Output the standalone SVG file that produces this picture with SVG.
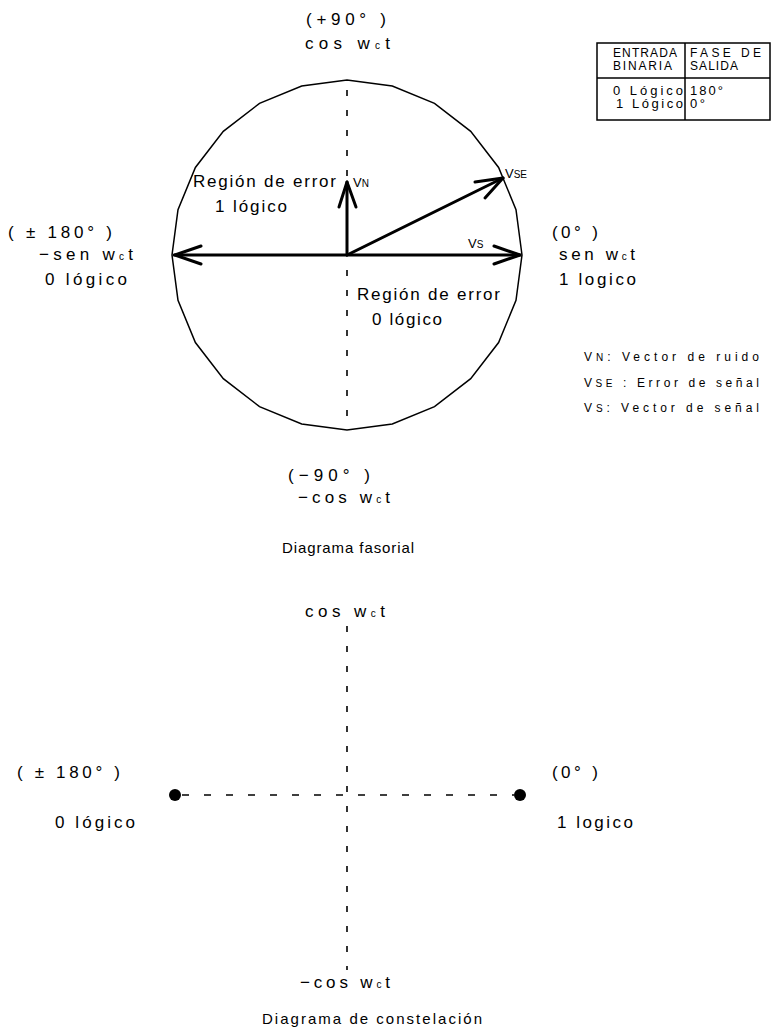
<svg xmlns="http://www.w3.org/2000/svg" width="773" height="1033" viewBox="0 0 773 1033">
<style>
.t{font-family:"Liberation Sans",Arial,sans-serif;font-size:17px;fill:#000}
.c{font-family:"Liberation Sans",Arial,sans-serif;font-size:15px;fill:#000}
.s{font-family:"Liberation Sans",Arial,sans-serif;font-size:12px;fill:#000}
.m{font-family:"Liberation Sans",Arial,sans-serif;font-size:13px;fill:#000}
.sub{font-size:10px}
.vec{stroke:#000;stroke-width:3;fill:none;stroke-linecap:round;stroke-linejoin:round}
.dash{stroke:#000;stroke-width:1.6;fill:none}
.box{stroke:#000;stroke-width:1.5;fill:none}
</style>
<rect width="773" height="1033" fill="#fff"/>

<g id="phasor-circle">
<polygon class="box" stroke-width="2" points="522,255 516,209.7 498.6,167.5 470.7,131.3 434.5,103.4 392.3,86 347,80 301.7,86 259.5,103.4 223.3,131.3 195.4,167.5 178,209.7 172,255 178,300.3 195.4,342.5 223.3,378.7 259.5,406.6 301.7,424 347,430 392.3,424 434.5,406.6 470.7,378.7 498.6,342.5 516,300.3"/>
</g>

<g id="connectors">
<line class="dash" x1="347" y1="90" x2="347" y2="425" stroke-dasharray="6 14"/>
<line class="vec" x1="174" y1="255" x2="520" y2="255"/>
<polyline class="vec" points="201,246 175,255 201,264"/>
<polyline class="vec" points="494,246 520,255 494,264"/>
<line class="vec" x1="347" y1="255" x2="347" y2="182"/>
<polyline class="vec" points="339,207 347,182 356,207"/>
<line class="vec" x1="347" y1="255" x2="503" y2="178"/>
<polyline class="vec" points="475,182 503,178 485,198"/>
<line class="dash" x1="347" y1="626" x2="347" y2="970" stroke-dasharray="6 14"/>
<line class="dash" x1="182" y1="795" x2="514" y2="795" stroke-dasharray="7 15"/>
</g>

<g id="labels-phasor">
<text class="t" x="306" y="25" textLength="80" lengthAdjust="spacing">(+90°  )</text>
<text class="t" x="305" y="49" textLength="85" lengthAdjust="spacing">cos w<tspan class="sub">c</tspan>t</text>
<text class="t" x="8" y="238" textLength="104" lengthAdjust="spacing">( ± 180°  )</text>
<text class="t" x="39" y="260" textLength="94" lengthAdjust="spacing">−sen w<tspan class="sub">c</tspan>t</text>
<text class="t" x="45" y="285" textLength="82" lengthAdjust="spacing">0 lógico</text>
<text class="t" x="552" y="238" textLength="46" lengthAdjust="spacing">(0°  )</text>
<text class="t" x="559" y="260" textLength="76" lengthAdjust="spacing">sen w<tspan class="sub">c</tspan>t</text>
<text class="t" x="559" y="285" textLength="77" lengthAdjust="spacing">1 logico</text>
<text class="t" x="193" y="187" textLength="143" lengthAdjust="spacing">Región de error</text>
<text class="t" x="215" y="212" textLength="72" lengthAdjust="spacing">1 lógico</text>
<text class="m" x="353" y="187">V<tspan class="sub">N</tspan></text>
<text class="m" x="505" y="178">V<tspan class="sub">SE</tspan></text>
<text class="m" x="468" y="248">V<tspan class="sub">S</tspan></text>
<text class="t" x="357" y="300" textLength="143" lengthAdjust="spacing">Región de error</text>
<text class="t" x="372" y="325" textLength="70" lengthAdjust="spacing">0 lógico</text>
<text class="t" x="288" y="481" textLength="82" lengthAdjust="spacing">(−90°  )</text>
<text class="t" x="298" y="503" textLength="92" lengthAdjust="spacing">−cos w<tspan class="sub">c</tspan>t</text>
<text class="c" x="282" y="553" textLength="132" lengthAdjust="spacing">Diagrama fasorial</text>
</g>

<g id="legend">
<text class="s" x="584" y="361" textLength="175" lengthAdjust="spacing">V<tspan class="sub">N</tspan>: Vector de ruido</text>
<text class="s" x="584" y="387" textLength="175" lengthAdjust="spacing">V<tspan class="sub">SE</tspan> : Error de señal</text>
<text class="s" x="584" y="412" textLength="175" lengthAdjust="spacing">V<tspan class="sub">S</tspan>: Vector de señal</text>
</g>

<g id="table">
<rect class="box" x="597" y="43" width="173" height="77"/>
<line class="box" x1="685" y1="43" x2="685" y2="120"/>
<line class="box" x1="597" y1="78" x2="770" y2="78"/>
<text class="s" x="613" y="57" textLength="64" lengthAdjust="spacing">ENTRADA</text>
<text class="s" x="613" y="70" textLength="59" lengthAdjust="spacing">BINARIA</text>
<text class="s" x="690" y="57" textLength="71" lengthAdjust="spacing">FASE DE</text>
<text class="s" x="690" y="70" textLength="48" lengthAdjust="spacing">SALIDA</text>
<text class="m" x="613" y="95" textLength="70" lengthAdjust="spacing">0 Lógico</text>
<text class="m" x="616" y="108" textLength="67" lengthAdjust="spacing">1 Lógico</text>
<text class="m" x="690" y="95" textLength="33" lengthAdjust="spacing">180°</text>
<text class="m" x="690" y="108" textLength="15" lengthAdjust="spacing">0°</text>
</g>

<g id="constellation">
<circle id="point-0" cx="175" cy="795" r="6" fill="#000"/>
<circle id="point-1" cx="520" cy="795" r="6" fill="#000"/>
<text class="t" x="305" y="617" textLength="80" lengthAdjust="spacing">cos w<tspan class="sub">c</tspan>t</text>
<text class="t" x="17" y="778" textLength="103" lengthAdjust="spacing">( ± 180°  )</text>
<text class="t" x="55" y="828" textLength="80" lengthAdjust="spacing">0 lógico</text>
<text class="t" x="552" y="778" textLength="46" lengthAdjust="spacing">(0°  )</text>
<text class="t" x="557" y="828" textLength="76" lengthAdjust="spacing">1 logico</text>
<text class="t" x="300" y="988" textLength="90" lengthAdjust="spacing">−cos w<tspan class="sub">c</tspan>t</text>
<text class="c" x="262" y="1024" textLength="220" lengthAdjust="spacing">Diagrama de constelación</text>
</g>
</svg>
